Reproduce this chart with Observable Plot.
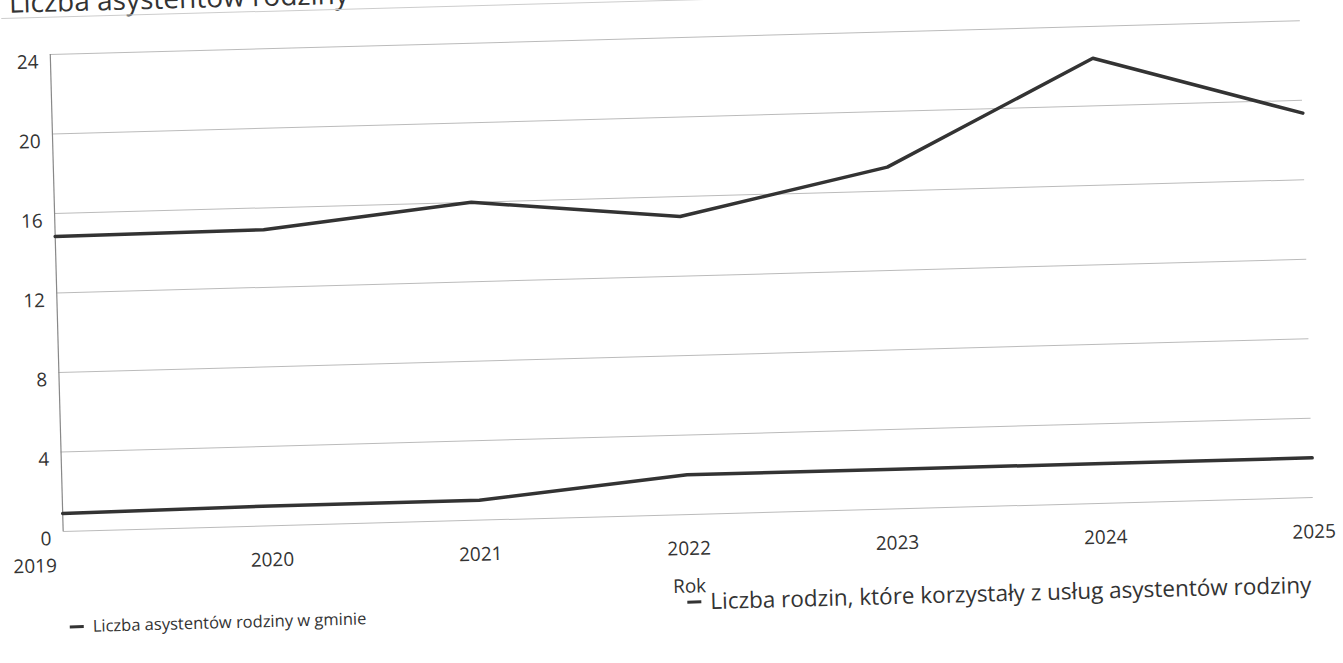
<!DOCTYPE html>
<html>
<head>
<meta charset="utf-8">
<script src="https://cdn.jsdelivr.net/npm/d3@7"></script>
<script src="https://cdn.jsdelivr.net/npm/@observablehq/plot@0.6"></script>
<style>
  html, body { margin: 0; padding: 0; background: #fff; overflow: hidden; }
  body { width: 1343px; height: 663px; font-family: "Open Sans", sans-serif; color: #333; }
  #page { position: absolute; left: 0; top: 0; width: 1343px; height: 663px;
          transform: rotate(-1.55deg); transform-origin: 671.5px 331.5px; }
  #title { position: absolute; left: 18px; top: -30px; font-size: 28px; line-height: 28px; color: #333; white-space: nowrap; }
  #rule { position: absolute; left: 10px; top: 0px; width: 1320px; border-top: 1px solid #ccc; }
  #chart { position: absolute; left: 0; top: 0; }
  #xlabel { position: absolute; left: 582.7px; width: 200px; top: 576px; line-height: 20px; font-size: 19px; text-align: center; }
  .leg { position: absolute; line-height: 22px; white-space: nowrap; display: flex; align-items: center; }
  .sw { display: inline-block; width: 14px; height: 3px; background: #333; margin-right: 9px; }
</style>
</head>
<body>
<div id="page">
  <div id="title">Liczba asystentów rodziny</div>
  <div id="rule"></div>
  <div id="chart"></div>
  <div id="xlabel">Rok</div>
  <div class="leg" id="leg1" style="left:62px; top:599px; font-size:16.5px"><span class="sw"></span><span>Liczba asystentów rodziny w gminie</span></div>
  <div class="leg" id="leg2" style="left:680px; top:591px; font-size:22.5px"><span class="sw"></span><span>Liczba rodzin, które korzystały z usług asystentów rodziny</span></div>
</div>
<script>
const years = [2019, 2020, 2021, 2022, 2023, 2024, 2025];
const assistants = [0.9, 1, 1, 2, 2, 2, 2];
const families = [14.85, 14.9, 16, 15, 17.2, 22.4, 19.35];
const yTicks = [0, 4, 8, 12, 16, 20, 24];

const assistantsData = years.map((year, i) => ({year, value: assistants[i]}));
const familiesData = years.map((year, i) => ({year, value: families[i]}));

const chart = Plot.plot({
  width: 1343,
  height: 575,
  marginLeft: 57.5,
  marginRight: 35,
  marginTop: 37.4,
  marginBottom: 60.6,
  style: {fontFamily: "Open Sans", fontSize: "19px", color: "#333", background: "transparent"},
  x: {type: "linear", domain: [years[0], years[years.length - 1]]},
  y: {domain: [0, 24]},
  marks: [
    Plot.gridY(yTicks, {stroke: "#bbb", strokeOpacity: 1, strokeWidth: 1}),
    Plot.ruleX([years[0]], {y1: 0, y2: 24, stroke: "#888", strokeWidth: 1.2}),
    Plot.axisY(yTicks, {tickSize: 0, tickPadding: 12, lineAnchor: "top", fontSize: 19, fill: "#333", label: null}),
    Plot.axisX(years.slice(1), {tickSize: 0, tickPadding: 27, lineAnchor: "top", fontSize: 19, fill: "#333", tickFormat: d => String(d), label: null}),
    Plot.axisX([years[0]], {tickSize: 0, tickPadding: 27, lineAnchor: "top", fontSize: 19, fill: "#333", tickFormat: d => String(d), dx: -29, label: null}),
    Plot.lineY(familiesData, {x: "year", y: "value", stroke: "#333", strokeWidth: 3.5}),
    Plot.lineY(assistantsData, {x: "year", y: "value", stroke: "#333", strokeWidth: 3.5})
  ]
});
document.getElementById("chart").appendChild(chart);
</script>
</body>
</html>
